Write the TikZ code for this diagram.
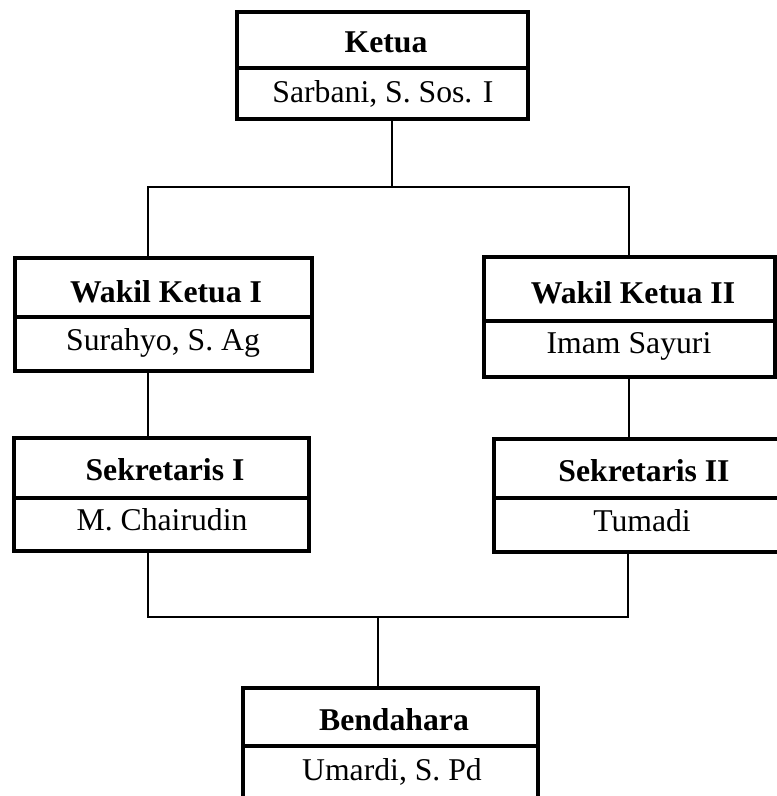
\documentclass[tikz,border=0pt]{standalone}
\usepackage{fontspec}
\setmainfont{Liberation Serif}
\begin{document}
\begin{tikzpicture}[x=1pt,y=-1pt,
  orgbox/.style={draw=black,line width=3.6pt,rectangle,inner sep=0pt,fill=white},
  divider/.style={draw=black,line width=3.2pt},
  conn/.style={draw=black,line width=1.3pt},
  titletext/.style={anchor=base,inner sep=0pt,font=\fontsize{31.7}{36}\selectfont\bfseries},
  nametext/.style={anchor=base,inner sep=0pt,font=\fontsize{31.7}{36}\selectfont}]
\useasboundingbox (0,0) rectangle (777,796);
\clip (0,0) rectangle (777,796);
\fill[white] (0,0) rectangle (777,796);

% junction coordinates
\coordinate (jtop) at (392,187);
\coordinate (busL) at (148,187);
\coordinate (busR) at (629,187);
\coordinate (jbot) at (378,617);
\coordinate (busL2) at (148,617);
\coordinate (busR2) at (628,617);

% boxes
\node[orgbox,minimum width=291pt,minimum height=107pt] (ketua) at (382.5,65.5) {};
\node[orgbox,minimum width=297pt,minimum height=113pt] (wk1) at (163.5,314.5) {};
\node[orgbox,minimum width=291pt,minimum height=120pt] (wk2) at (629.5,317) {};
\node[orgbox,minimum width=295pt,minimum height=113pt] (sk1) at (161.5,494.5) {};
\node[orgbox,minimum width=296pt,minimum height=113pt] (sk2) at (642,495.5) {};
\node[orgbox,minimum width=295pt,minimum height=118pt] (bend) at (390.5,747) {};

% dividers
\draw[divider] (ketua.west |- 0,68) -- (ketua.east |- 0,68);
\draw[divider] (wk1.west |- 0,317) -- (wk1.east |- 0,317);
\draw[divider] (wk2.west |- 0,321) -- (wk2.east |- 0,321);
\draw[divider] (sk1.west |- 0,498) -- (sk1.east |- 0,498);
\draw[divider] (sk2.west |- 0,498) -- (sk2.east |- 0,498);
\draw[divider] (bend.west |- 0,746) -- (bend.east |- 0,746);

% connector lines
\draw[conn] (ketua.south -| jtop) -- (jtop);
\draw[conn] (wk1.north -| busL) -- (busL) -- (busR) -- (wk2.north -| busR);
\draw[conn] (wk1.south -| busL) -- (sk1.north -| busL);
\draw[conn] (wk2.south -| busR) -- (sk2.north -| busR);
\draw[conn] (sk1.south -| busL2) -- (busL2) -- (busR2) -- (sk2.south -| busR2);
\draw[conn] (jbot) -- (bend.north -| jbot);

% texts
\node[titletext] (t1) at (386,52) {Ketua};
\node[nametext] (n1) at (383,102) {Sarbani, S. Sos. I};
\node[titletext] (t2) at (166,302) {Wakil Ketua I};
\node[nametext] (n2) at (163,350) {Surahyo, S. Ag};
\node[titletext] (t3) at (633,303) {Wakil Ketua II};
\node[nametext] (n3) at (629,353) {Imam Sayuri};
\node[titletext] (t4) at (165,480) {Sekretaris I};
\node[nametext] (n4) at (162,530) {M. Chairudin};
\node[titletext] (t5) at (644,481) {Sekretaris II};
\node[nametext] (n5) at (642,531) {Tumadi};
\node[titletext] (t6) at (394,730) {Bendahara};
\node[nametext] (n6) at (392,780) {Umardi, S. Pd};
\end{tikzpicture}
\end{document}
